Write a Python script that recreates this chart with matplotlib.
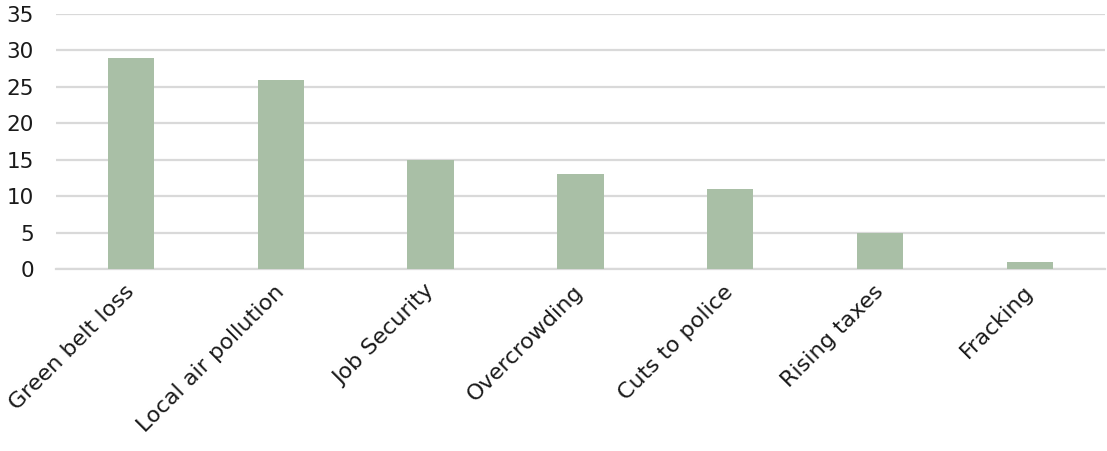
import matplotlib
matplotlib.use('Agg')
import matplotlib.pyplot as plt
import numpy as np

# Chart data
categories = ['Green belt loss', 'Local air pollution', 'Job Security',
              'Overcrowding', 'Cuts to police', 'Rising taxes', 'Fracking']
values = [29, 26, 15, 13, 11, 5, 1]
yticks = [0, 5, 10, 15, 20, 25, 30, 35]

plt.rcParams['font.family'] = ['DejaVu Sans']

fig = plt.figure(figsize=(11.07, 4.51), dpi=100)
ax = fig.add_axes([0.0506, 0.4035, 0.9474, 0.5655])

x = np.arange(len(categories))
ax.bar(x, values, width=0.31, color='#a9bfa6', zorder=3)

ax.set_xlim(-0.5, len(categories) - 0.5)
ax.set_ylim(0, 35)
ax.set_yticks(yticks)
ax.set_yticklabels([str(t) for t in yticks], fontsize=15.5, color='#1a1a1a')
ax.yaxis.grid(True, color='#d9d9d9', linewidth=1.6, zorder=0)
ax.set_axisbelow(True)

ax.set_xticks(x)
ax.set_xticklabels(categories, rotation=45, ha='right', va='center',
                   rotation_mode='anchor', fontsize=16, color='#1a1a1a')
ax.tick_params(axis='both', length=0)
ax.tick_params(axis='y', pad=16)
ax.tick_params(axis='x', pad=14)

for side in ['top', 'right', 'left']:
    ax.spines[side].set_visible(False)
ax.spines['bottom'].set_color('#d9d9d9')
ax.spines['bottom'].set_linewidth(1.6)

fig.savefig('out.png', dpi=100)
